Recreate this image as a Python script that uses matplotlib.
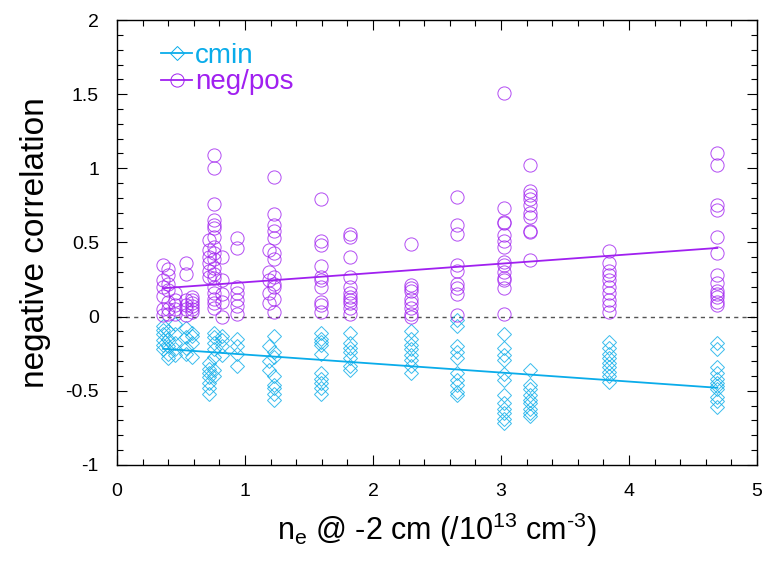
import numpy as np
import matplotlib
matplotlib.use('Agg')
import matplotlib.pyplot as plt
from matplotlib.ticker import MultipleLocator

plt.rcParams['font.family'] = ['Liberation Sans', 'DejaVu Sans']

# electron density positions of each group of shots
ne = [0.36, 0.40, 0.45, 0.54, 0.59, 0.72, 0.76, 0.82, 0.94, 1.19,
      1.23, 1.59, 1.82, 2.30, 2.66, 3.02, 3.23, 3.84, 4.69]

negpos = [
    [0.35, 0.25, 0.20, 0.14, 0.05, 0.01],
    [0.32, 0.28, 0.22, 0.18, 0.10, 0.05, 0.02],
    [0.16, 0.11, 0.08, 0.05, 0.02],
    [0.36, 0.29, 0.11, 0.08, 0.05, 0.01],
    [0.13, 0.11, 0.09, 0.07, 0.05, 0.03],
    [0.52, 0.45, 0.40, 0.36, 0.31, 0.27],
    [1.09, 1.00, 0.76, 0.65, 0.62, 0.60, 0.54, 0.47, 0.43, 0.39, 0.33, 0.29,
     0.26, 0.20, 0.16, 0.12, 0.09, 0.06],
    [0.40, 0.25, 0.15, 0.10, 0.00],
    [0.53, 0.46, 0.20, 0.16, 0.11, 0.07, 0.02],
    [0.45, 0.30, 0.25, 0.16, 0.09],
    [0.94, 0.69, 0.62, 0.58, 0.53, 0.43, 0.39, 0.27, 0.22, 0.20, 0.12, 0.03],
    [0.79, 0.51, 0.48, 0.34, 0.27, 0.25, 0.20, 0.10, 0.08, 0.03],
    [0.56, 0.54, 0.40, 0.27, 0.20, 0.16, 0.13, 0.11, 0.09, 0.06, 0.02],
    [0.49, 0.21, 0.19, 0.17, 0.12, 0.09, 0.06, 0.02, 0.00],
    [0.81, 0.62, 0.56, 0.35, 0.31, 0.22, 0.19, 0.15, 0.01],
    [1.51, 0.73, 0.64, 0.63, 0.55, 0.51, 0.47, 0.37, 0.35, 0.30, 0.26, 0.25,
     0.19, 0.02],
    [1.02, 0.85, 0.82, 0.79, 0.75, 0.70, 0.67, 0.58, 0.57, 0.38],
    [0.44, 0.36, 0.31, 0.28, 0.25, 0.20, 0.16, 0.11, 0.08, 0.03],
    [1.10, 1.02, 0.75, 0.72, 0.54, 0.43, 0.28, 0.23, 0.17, 0.15, 0.13, 0.10,
     0.08],
]

cmin = [
    [-0.06, -0.09, -0.12, -0.16, -0.19, -0.22],
    [-0.10, -0.15, -0.20, -0.25, -0.28],
    [-0.05, -0.12, -0.18, -0.22, -0.26],
    [-0.08, -0.14, -0.21, -0.25],
    [-0.11, -0.13, -0.18, -0.27],
    [-0.31, -0.35, -0.38, -0.41, -0.45, -0.48, -0.52],
    [-0.11, -0.14, -0.18, -0.22, -0.27, -0.36, -0.40],
    [-0.13, -0.16, -0.20, -0.26],
    [-0.15, -0.20, -0.25, -0.33],
    [-0.20, -0.30, -0.36],
    [-0.13, -0.24, -0.27, -0.40, -0.46, -0.48, -0.52, -0.56],
    [-0.11, -0.15, -0.17, -0.19, -0.25, -0.38, -0.42, -0.45, -0.48, -0.52],
    [-0.11, -0.18, -0.21, -0.24, -0.28, -0.33, -0.36],
    [-0.10, -0.15, -0.19, -0.22, -0.26, -0.29, -0.33, -0.38],
    [-0.02, -0.06, -0.20, -0.24, -0.28, -0.38, -0.43, -0.46, -0.51, -0.53],
    [-0.12, -0.21, -0.26, -0.29, -0.39, -0.43, -0.53, -0.58, -0.62, -0.65,
     -0.69, -0.72],
    [-0.36, -0.46, -0.49, -0.53, -0.56, -0.58, -0.62, -0.65, -0.67],
    [-0.17, -0.21, -0.25, -0.28, -0.31, -0.34, -0.37, -0.40, -0.44],
    [-0.18, -0.22, -0.34, -0.38, -0.42, -0.45, -0.47, -0.49, -0.54, -0.57,
     -0.61],
]

# linear fits (slope, intercept)
negpos_fit = (0.0627, 0.169)
cmin_fit = (-0.0607, -0.195)

yticks = [-1, -0.5, 0, 0.5, 1, 1.5, 2]
ytick_labels = ['-1', '-0.5', '0', '0.5', '1', '1.5', '2']

purple = '#a020f0'
cyan = '#0aacea'


def flatten(xs, groups):
    x = np.concatenate([[xv] * len(g) for xv, g in zip(xs, groups)])
    y = np.concatenate(groups)
    return x, y


fig = plt.figure(figsize=(7.67, 5.67), dpi=100)
ax = fig.add_axes([0.1525, 0.18, 0.8345, 0.7847])

xc, yc = flatten(ne, cmin)
xn, yn = flatten(ne, negpos)

ax.axhline(0, color='#555555', lw=1.0, ls=(0, (3, 3)), zorder=1)

ax.plot(xc, yc, ls='none', marker='D', ms=7.2, mfc='none', mec=cyan,
        mew=0.7, alpha=0.8)
ax.plot(xn, yn, ls='none', marker='o', ms=9.5, mfc='none', mec=purple,
        mew=0.7, alpha=0.8)

xfit = np.array([min(ne), max(ne)])
ax.plot(xfit, cmin_fit[0] * xfit + cmin_fit[1], color=cyan, lw=1.3)
ax.plot(xfit, negpos_fit[0] * xfit + negpos_fit[1], color=purple, lw=1.3)

# legend proxies
h1, = ax.plot([], [], color=cyan, lw=1.3, marker='D', ms=7.2, mfc='none',
              mec=cyan, mew=0.7, label='cmin')
h2, = ax.plot([], [], color=purple, lw=1.3, marker='o', ms=9.5, mfc='none',
              mec=purple, mew=0.7, label='neg/pos')
leg = ax.legend(handles=[h1, h2], loc='upper left', frameon=False,
                fontsize=20, handlelength=1.1, handletextpad=0.12,
                labelspacing=0.02, borderaxespad=0.0,
                bbox_to_anchor=(0.052, 0.974))
leg.get_texts()[0].set_color(cyan)
leg.get_texts()[1].set_color(purple)

ax.set_xlim(0, 5)
ax.set_ylim(-1, 2)
ax.xaxis.set_major_locator(MultipleLocator(1))
ax.xaxis.set_minor_locator(MultipleLocator(0.2))
ax.set_yticks(yticks)
ax.set_yticklabels(ytick_labels)
ax.yaxis.set_minor_locator(MultipleLocator(0.1))
ax.tick_params(which='both', direction='in', top=True, right=True,
               labelsize=14)
ax.tick_params(which='major', length=7, width=0.8, pad=13)
ax.tick_params(which='minor', length=4, width=0.8)
for s in ax.spines.values():
    s.set_linewidth(1.0)

ax.set_ylabel('negative correlation', fontsize=24, labelpad=10)
ax.set_xlabel('n$_\\mathregular{e}$ @ -2 cm (/10$^\\mathregular{13}$ cm$^\\mathregular{\u20103}$)',
              fontsize=22, labelpad=8)

fig.savefig('out.png', dpi=100)
